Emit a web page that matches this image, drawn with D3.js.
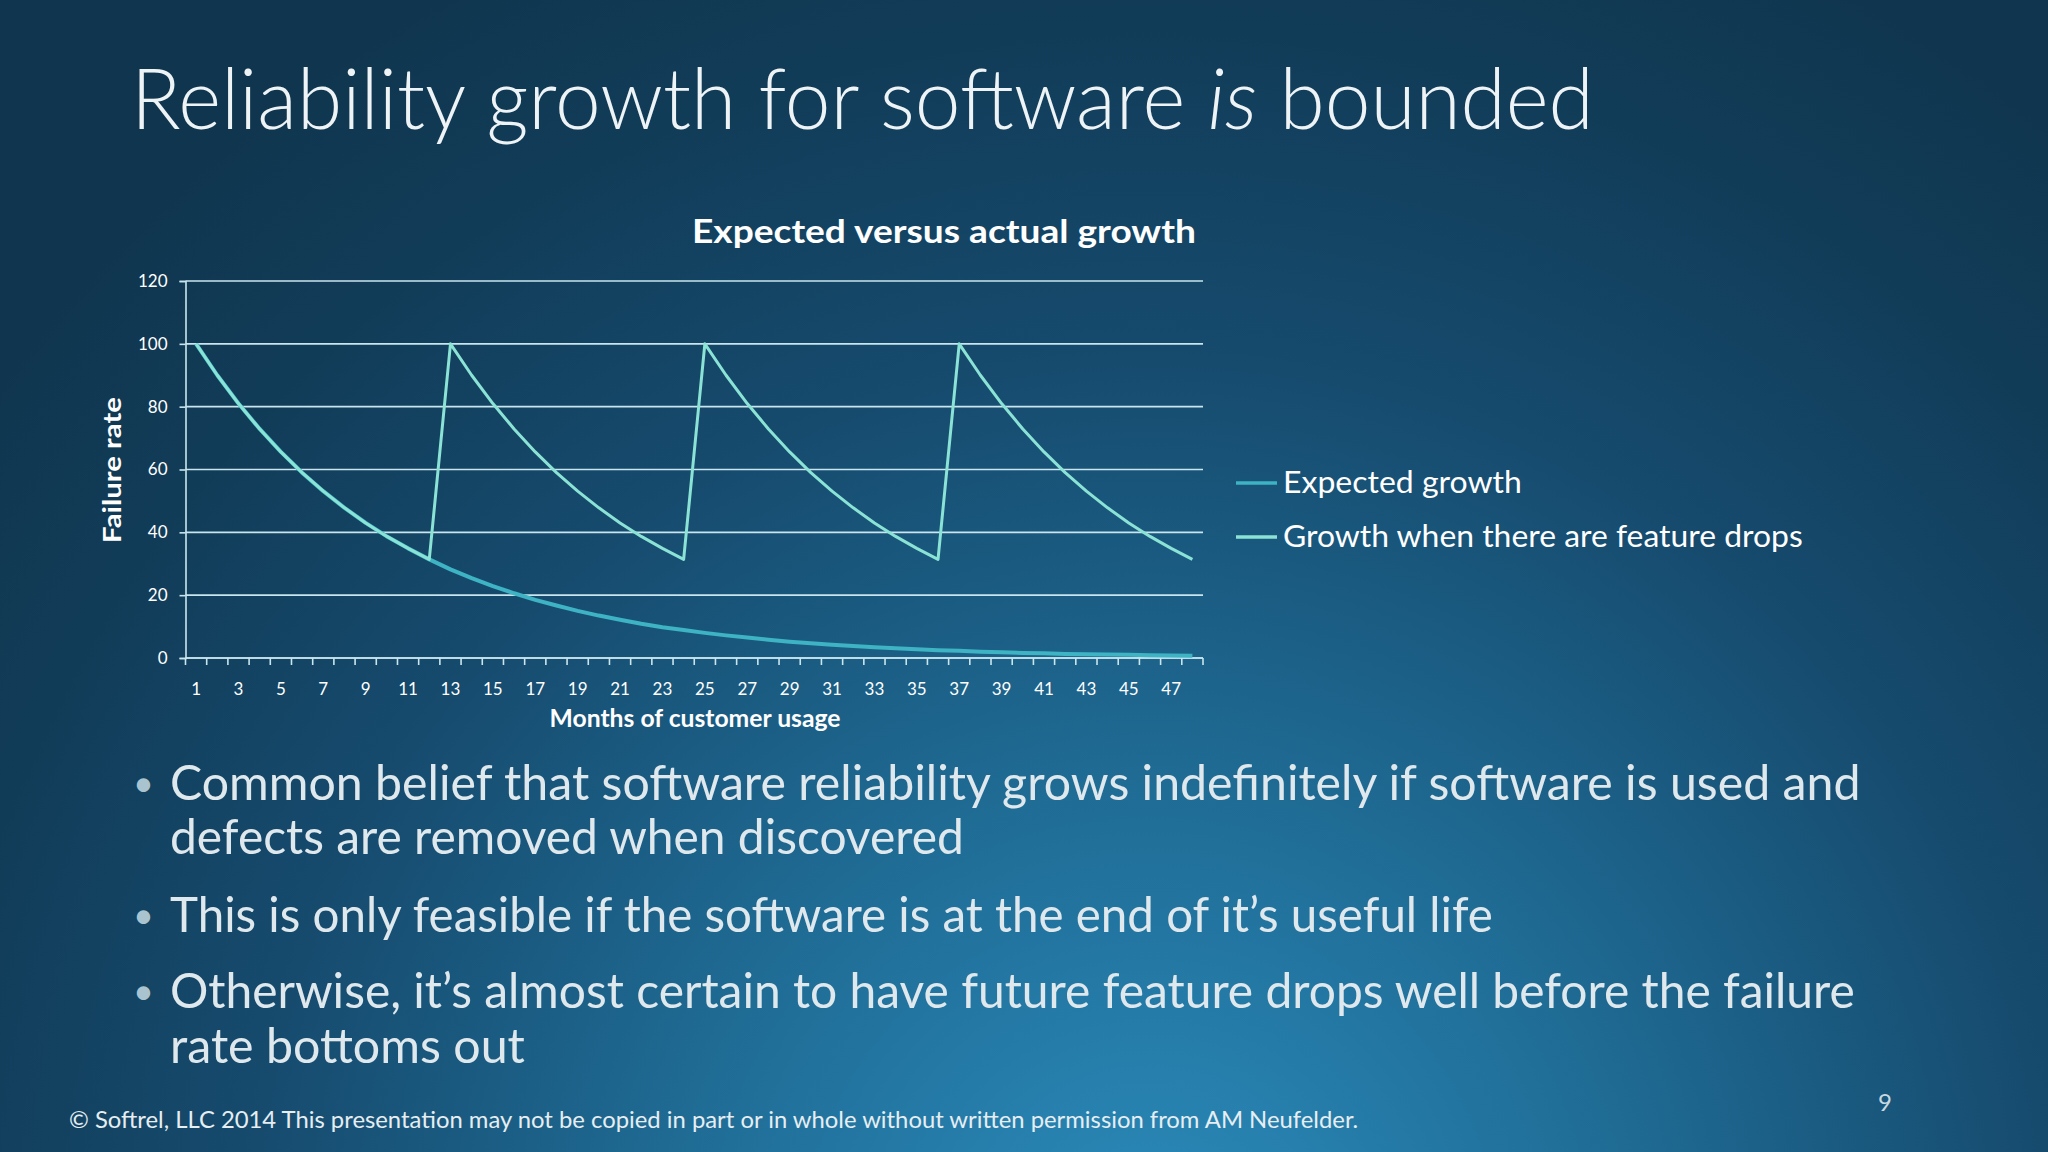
<!DOCTYPE html>
<html>
<head>
<meta charset="utf-8">
<script src="https://cdn.jsdelivr.net/npm/d3@7"></script>
<style>
  html, body { margin: 0; padding: 0; background: #10364f; overflow: hidden; }
  svg { display: block; }
</style>
</head>
<body>
<svg id="viz" width="2048" height="1152"></svg>
<script>
/* Data */

const months = [1, 2, 3, 4, 5, 6, 7, 8, 9, 10, 11, 12, 13, 14, 15, 16, 17, 18, 19, 20, 21, 22, 23, 24,
  25, 26, 27, 28, 29, 30, 31, 32, 33, 34, 35, 36, 37, 38, 39, 40, 41, 42, 43, 44, 45, 46, 47, 48];

const expectedGrowth = [100, 90, 81, 72.9, 65.6, 59, 53.1, 47.8, 43, 38.7, 34.9, 31.4,
  28.2, 25.4, 22.9, 20.6, 18.5, 16.7, 15, 13.5, 12.2, 10.9, 9.8, 8.9,
  8, 7.2, 6.5, 5.8, 5.2, 4.7, 4.2, 3.8, 3.4, 3.1, 2.8, 2.5,
  2.3, 2, 1.8, 1.6, 1.5, 1.3, 1.2, 1.1, 1, 0.9, 0.8, 0.7];

const featureDropGrowth = [100, 90, 81, 72.9, 65.6, 59, 53.1, 47.8, 43, 38.7, 34.9, 31.4,
  100, 90, 81, 72.9, 65.6, 59, 53.1, 47.8, 43, 38.7, 34.9, 31.4,
  100, 90, 81, 72.9, 65.6, 59, 53.1, 47.8, 43, 38.7, 34.9, 31.4,
  100, 90, 81, 72.9, 65.6, 59, 53.1, 47.8, 43, 38.7, 34.9, 31.4];

const monthLabels = [1, 3, 5, 7, 9, 11, 13, 15, 17, 19, 21, 23, 25, 27, 29, 31, 33, 35, 37, 39, 41, 43, 45, 47];
const rateTicks = [0, 20, 40, 60, 80, 100, 120];

const seriesNames = ['Expected growth', 'Growth when there are feature drops'];

const bullets = [
  ['Common belief that software reliability grows indefinitely if software is used and',
   'defects are removed when discovered'],
  ['This is only feasible if the software is at the end of it\u2019s useful life'],
  ['Otherwise, it\u2019s almost certain to have future feature drops well before the failure',
   'rate bottoms out']
];

/* Slide */

const svg = d3.select('#viz');
const font = 'Lato, "Open Sans", sans-serif';

// background glow
const grad = svg.append('defs').append('radialGradient')
  .attr('id', 'bg')
  .attr('gradientUnits', 'userSpaceOnUse')
  .attr('cx', 1150).attr('cy', 1260).attr('r', 1450);
[[0, '#2b8bbb'], [0.3, '#206f99'], [0.62, '#164b6e'], [0.85, '#113c58'], [1, '#10364f']]
  .forEach(([o, c]) => grad.append('stop').attr('offset', o).attr('stop-color', c));

svg.append('rect').attr('width', 2048).attr('height', 1152).attr('fill', 'url(#bg)');

// squeeze a text horizontally so it spans the given width
function fit(sel, w) {
  const len = sel.node().getComputedTextLength();
  const x = +sel.attr('x') || 0;
  const y = +sel.attr('y') || 0;
  const sx = w / len;
  const anchor = sel.attr('text-anchor');
  const ox = anchor === 'middle' ? x : x;
  sel.attr('transform', `translate(${ox},${y}) scale(${sx},1) translate(${-ox},${-y})`);
}

// slide title
const title = svg.append('text')
  .attr('x', 131).attr('y', 129)
  .attr('font-family', font).attr('font-weight', 300).attr('font-size', 84)
  .attr('fill', '#eef3f5');
title.append('tspan').text('Reliability growth for software ');
title.append('tspan').attr('font-style', 'italic').text('is');
title.append('tspan').text(' bounded');
fit(title, 1463);

/* Chart */

const x0 = 185.5, x1 = 1203, yTop = 281, yBot = 658;

const xScale = d3.scaleBand().domain(months).range([x0, x1]).padding(0);
const yScale = d3.scaleLinear().domain([0, 120]).range([yBot, yTop]);

const gridColor = '#c9e6ee';

// chart title
fit(svg.append('text')
  .attr('x', 692).attr('y', 243)
  .attr('font-family', font).attr('font-weight', 700).attr('font-size', 33)
  .attr('fill', '#ffffff')
  .text('Expected versus actual growth'), 504);

// gridlines + y axis
const yAxis = svg.append('g')
  .attr('transform', `translate(${x0},0)`)
  .call(d3.axisLeft(yScale).tickValues(rateTicks).tickSize(6).tickPadding(12));
yAxis.select('.domain').attr('stroke', gridColor).attr('stroke-width', 1.6);
yAxis.selectAll('.tick line').attr('stroke', gridColor).attr('stroke-width', 1.6);
yAxis.selectAll('.tick text')
  .attr('font-family', font).attr('font-size', 17).attr('fill', '#ffffff');

svg.append('g')
  .selectAll('line')
  .data(rateTicks)
  .join('line')
  .attr('x1', x0).attr('x2', x1)
  .attr('y1', (d) => yScale(d)).attr('y2', (d) => yScale(d))
  .attr('stroke', gridColor).attr('stroke-width', 1.6);

// x axis, ticks on the category boundaries
const xAxis = svg.append('g').attr('transform', `translate(0,${yBot})`);
xAxis.append('line')
  .attr('x1', x0).attr('x2', x1)
  .attr('stroke', gridColor).attr('stroke-width', 1.6);
xAxis.selectAll('line.tick')
  .data(months.concat([49]))
  .join('line')
  .attr('class', 'tick')
  .attr('x1', (d) => d === 49 ? x1 : xScale(d))
  .attr('x2', (d) => d === 49 ? x1 : xScale(d))
  .attr('y1', 0).attr('y2', 7)
  .attr('stroke', gridColor).attr('stroke-width', 1.6);
xAxis.selectAll('text')
  .data(monthLabels)
  .join('text')
  .attr('x', (d) => xScale(d) + xScale.bandwidth() / 2)
  .attr('y', 37)
  .attr('text-anchor', 'middle')
  .attr('font-family', font).attr('font-size', 17).attr('fill', '#ffffff')
  .text((d) => d);

// axis titles
const yTitle = svg.append('text')
  .attr('text-anchor', 'middle')
  .attr('font-family', font).attr('font-weight', 700).attr('font-size', 24)
  .attr('fill', '#ffffff')
  .text('Failure rate');
const yLen = yTitle.node().getComputedTextLength();
yTitle.attr('transform', `translate(121,470) rotate(-90) scale(${146 / yLen},1)`);

const xTitle = svg.append('text')
  .attr('x', 695).attr('y', 727)
  .attr('text-anchor', 'middle')
  .attr('font-family', font).attr('font-weight', 700).attr('font-size', 24)
  .attr('fill', '#ffffff')
  .text('Months of customer usage');
fit(xTitle, 291);

// series lines
const colors = ['#3db3c3', '#8be3d6'];
const widths = [4, 3];
const line = d3.line()
  .x((d, i) => xScale(months[i]) + xScale.bandwidth() / 2)
  .y((d) => yScale(d));

svg.append('g')
  .selectAll('path')
  .data([expectedGrowth, featureDropGrowth])
  .join('path')
  .attr('fill', 'none')
  .attr('stroke', (_, i) => colors[i])
  .attr('stroke-width', (_, i) => widths[i])
  .attr('stroke-linejoin', 'round')
  .attr('d', line);

// legend
const legend = svg.append('g')
  .selectAll('g')
  .data(seriesNames)
  .join('g')
  .attr('transform', (_, i) => `translate(0,${483 + i * 54})`);
legend.append('line')
  .attr('x1', 1236).attr('x2', 1277)
  .attr('stroke', (_, i) => colors[i]).attr('stroke-width', 3.5);
legend.append('text')
  .attr('x', 1283).attr('y', 10)
  .attr('font-family', font).attr('font-size', 31).attr('fill', '#ffffff')
  .text((d) => d)
  .each(function (_, i) {
    fit(d3.select(this), [239, 520][i]);
  });

/* Bullets */

const bulletBase = [[800, 854], [932], [1008, 1063]];
const bulletWidths = [[1691, 794], [1323], [1685, 355]];

bullets.forEach((lines, i) => {
  svg.append('text')
    .attr('x', 133).attr('y', bulletBase[i][0] - 4)
    .attr('font-family', font).attr('font-size', 36).attr('fill', '#a9c3cf')
    .text('\u2022');
  lines.forEach((t, j) => {
    fit(svg.append('text')
      .attr('x', 170).attr('y', bulletBase[i][j])
      .attr('font-family', font).attr('font-size', 49).attr('fill', '#dfe8ec')
      .text(t), bulletWidths[i][j]);
  });
});

// footer and page number
fit(svg.append('text')
  .attr('x', 69).attr('y', 1128)
  .attr('font-family', font).attr('font-size', 24).attr('fill', '#e6eef2')
  .text('\u00a9 Softrel, LLC 2014 This presentation may not be copied in part or in whole without written permission from AM Neufelder.'), 1290);

svg.append('text')
  .attr('x', 1885).attr('y', 1111)
  .attr('text-anchor', 'middle')
  .attr('font-family', font).attr('font-size', 24).attr('fill', '#c9d9e2')
  .text('9');
</script>
</body>
</html>
